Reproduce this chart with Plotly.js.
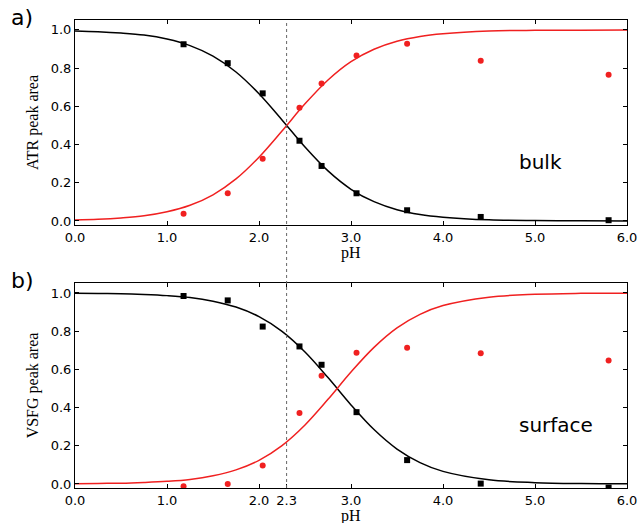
<!DOCTYPE html>
<html>
<head>
<meta charset="utf-8">
<script src="https://cdn.plot.ly/plotly-3.0.1.min.js"></script>
<style>body{margin:0;padding:0;background:#fff}#chart{width:638px;height:523px}</style>
</head>
<body>
<div id="chart"></div>
<script>
// Measured points (pH, peak area)
const pH = [1.18, 1.66, 2.04, 2.44, 2.68, 3.06, 3.61, 4.41, 5.80];
const atrBlack = [0.925, 0.826, 0.668, 0.420, 0.288, 0.145, 0.056, 0.021, 0.004];
const atrRed   = [0.038, 0.145, 0.326, 0.593, 0.719, 0.866, 0.928, 0.839, 0.766];
const vsfgBlack = [0.984, 0.961, 0.824, 0.720, 0.624, 0.376, 0.125, 0.002, -0.019];
const vsfgRed   = [-0.012, 0.000, 0.097, 0.372, 0.567, 0.687, 0.713, 0.685, 0.647];

// Fitted curves
const fitX = [0, 0.25, 0.5, 0.75, 1.0, 1.25, 1.5, 1.75, 2.0, 2.25, 2.5, 2.75, 3.0, 3.25, 3.5, 3.75, 4.0, 4.5, 5.0, 5.5, 6.0];
const atrFitBlack = [0.995, 0.991, 0.984, 0.973, 0.952, 0.918, 0.863, 0.780, 0.666, 0.529, 0.387, 0.262, 0.166, 0.101, 0.059, 0.034, 0.020, 0.006, 0.002, 0.001, 0.000];
const atrFitRed   = [0.005, 0.009, 0.016, 0.027, 0.048, 0.082, 0.137, 0.220, 0.334, 0.471, 0.613, 0.738, 0.834, 0.899, 0.941, 0.966, 0.980, 0.994, 0.998, 0.999, 1.000];
const vsfgFitBlack = [0.999, 0.997, 0.996, 0.992, 0.986, 0.976, 0.957, 0.926, 0.876, 0.799, 0.691, 0.557, 0.414, 0.285, 0.183, 0.112, 0.066, 0.022, 0.007, 0.002, 0.001];
const vsfgFitRed   = [0.001, 0.003, 0.004, 0.008, 0.014, 0.024, 0.043, 0.074, 0.124, 0.201, 0.309, 0.443, 0.586, 0.715, 0.817, 0.888, 0.934, 0.978, 0.993, 0.998, 0.999];

const yTicks = [0.0, 0.2, 0.4, 0.6, 0.8, 1.0];
const xTicksTop = [0, 1, 2, 3, 4, 5, 6];
const xTicksBottom = [0, 1, 2, 2.3, 3, 4, 5, 6];
const pKaLine = 2.3;

const RED = '#f02020';
const BLACK = '#000000';

function line(x, y, color, xa, ya) {
  return {x: x, y: y, type: 'scatter', mode: 'lines', line: {color: color, width: 1.5, shape: 'spline', smoothing: 1.0}, xaxis: xa, yaxis: ya, hoverinfo: 'skip'};
}
function pts(x, y, color, sym, xa, ya) {
  return {x: x, y: y, type: 'scatter', mode: 'markers', marker: {color: color, symbol: sym, size: 6}, xaxis: xa, yaxis: ya};
}

const data = [
  line(fitX, atrFitBlack, BLACK, 'x', 'y'),
  line(fitX, atrFitRed, RED, 'x', 'y'),
  pts(pH, atrBlack, BLACK, 'square', 'x', 'y'),
  pts(pH, atrRed, RED, 'circle', 'x', 'y'),
  line(fitX, vsfgFitBlack, BLACK, 'x2', 'y2'),
  line(fitX, vsfgFitRed, RED, 'x2', 'y2'),
  pts(pH, vsfgBlack, BLACK, 'square', 'x2', 'y2'),
  pts(pH, vsfgRed, RED, 'circle', 'x2', 'y2')
];

const tickFont = {family: 'DejaVu Sans', size: 13, color: '#000'};
const titleFont = {family: 'Liberation Serif', size: 16, color: '#000'};

function xaxis(domainAnchor, vals) {
  return {
    range: [0, 6], domain: [0, 1], anchor: domainAnchor,
    tickmode: 'array', tickvals: vals, ticktext: vals.map(v => v.toFixed(1)),
    ticks: 'inside', ticklen: 4, tickwidth: 1, tickcolor: '#000',
    showline: true, linecolor: '#000', linewidth: 1, mirror: 'allticks',
    showgrid: false, zeroline: false, tickfont: tickFont
  };
}
function yaxis(domain, anchor, title) {
  return {
    range: [-0.021, 1.052], domain: domain, anchor: anchor,
    tickmode: 'array', tickvals: yTicks, ticktext: yTicks.map(v => v.toFixed(1)),
    ticks: 'inside', ticklen: 4, tickwidth: 1, tickcolor: '#000',
    showline: true, linecolor: '#000', linewidth: 1, mirror: 'allticks',
    showgrid: false, zeroline: false, tickfont: tickFont,
    title: {text: title, font: titleFont, standoff: 8}
  };
}

const layout = {
  width: 638, height: 523,
  margin: {l: 75, r: 11, t: 20, b: 35},
  paper_bgcolor: '#fff', plot_bgcolor: '#fff',
  showlegend: false,
  xaxis: xaxis('y', xTicksTop),
  yaxis: yaxis([0.562, 1.0], 'x', 'ATR peak area'),
  xaxis2: xaxis('y2', xTicksBottom),
  yaxis2: yaxis([0, 0.438], 'x2', 'VSFG peak area'),
  shapes: [{
    type: 'line', xref: 'x', yref: 'paper', x0: pKaLine, x1: pKaLine, y0: 0, y1: 1,
    line: {color: '#666', width: 1, dash: 'dot'}
  }],
  annotations: [
    {text: 'pH', xref: 'paper', yref: 'paper', x: 0.5, y: 0.524, xanchor: 'center', yanchor: 'top', showarrow: false, borderpad: 0, font: titleFont},
    {text: 'pH', xref: 'paper', yref: 'paper', x: 0.5, y: -0.039, xanchor: 'center', yanchor: 'top', showarrow: false, borderpad: 0, font: titleFont},
    {text: 'a)', xref: 'paper', yref: 'paper', x: -0.12, y: 1.005, xanchor: 'left', yanchor: 'middle', showarrow: false, font: {family: 'DejaVu Sans', size: 22, color: '#000'}},
    {text: 'b)', xref: 'paper', yref: 'paper', x: -0.12, y: 0.444, xanchor: 'left', yanchor: 'middle', showarrow: false, font: {family: 'DejaVu Sans', size: 22, color: '#000'}},
    {text: 'bulk', xref: 'x', yref: 'y', x: 4.8, y: 0.31, xanchor: 'left', yanchor: 'middle', showarrow: false, font: {family: 'DejaVu Sans', size: 20, color: '#000'}},
    {text: 'surface', xref: 'x2', yref: 'y2', x: 4.8, y: 0.31, xanchor: 'left', yanchor: 'middle', showarrow: false, font: {family: 'DejaVu Sans', size: 20, color: '#000'}}
  ]
};

Plotly.newPlot('chart', data, layout, {displayModeBar: false, staticPlot: true});
</script>
</body>
</html>
